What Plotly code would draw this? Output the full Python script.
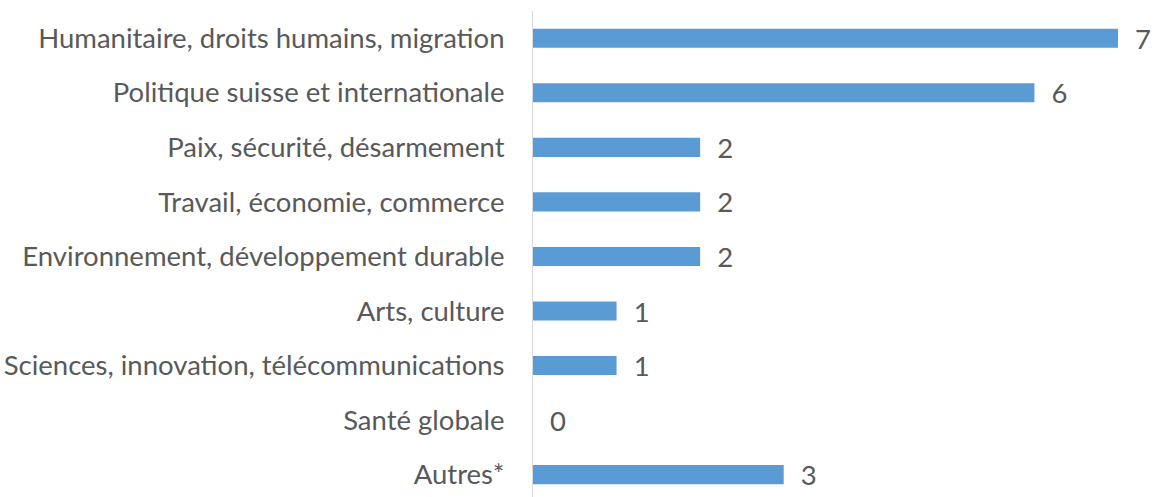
import plotly.graph_objects as go

categories = [
    "Humanitaire, droits humains, migration",
    "Politique suisse et internationale",
    "Paix, sécurité, désarmement",
    "Travail, économie, commerce",
    "Environnement, développement durable",
    "Arts, culture",
    "Sciences, innovation, télécommunications",
    "Santé globale",
    "Autres*",
]
values = [7, 6, 2, 2, 2, 1, 1, 0, 3]

FONT = "Lato"
TXT = "#595959"
SIZE = 27.5

fig = go.Figure(go.Bar(
    x=values, y=categories, orientation="h",
    marker=dict(color="#5B9BD5", line=dict(width=0)),
    width=0.35,
    text=values, texttemplate="  %{x}", textposition="outside",
    textfont=dict(family=FONT, size=SIZE, color=TXT),
    constraintext="none", cliponaxis=False,
))

fig.update_layout(
    width=1155, height=497,
    margin=dict(l=533, r=37, t=11, b=0),
    paper_bgcolor="white", plot_bgcolor="white",
    showlegend=False,
    font=dict(family=FONT, size=SIZE, color=TXT),
)
fig.update_xaxes(range=[0, 7], visible=False, showgrid=False, zeroline=False)
fig.update_yaxes(
    type="category", range=[8.41, -0.5],
    showline=True, linecolor="#D9D9D9", linewidth=1,
    showgrid=False, zeroline=False,
    ticks="outside", ticklen=22, tickcolor="rgba(0,0,0,0)",
    tickfont=dict(family=FONT, size=SIZE, color=TXT),
)

fig.write_html(
    "out.html",
    config={"displayModeBar": False},
    post_script="document.body.style.margin='0';document.body.style.overflow='hidden';",
)
